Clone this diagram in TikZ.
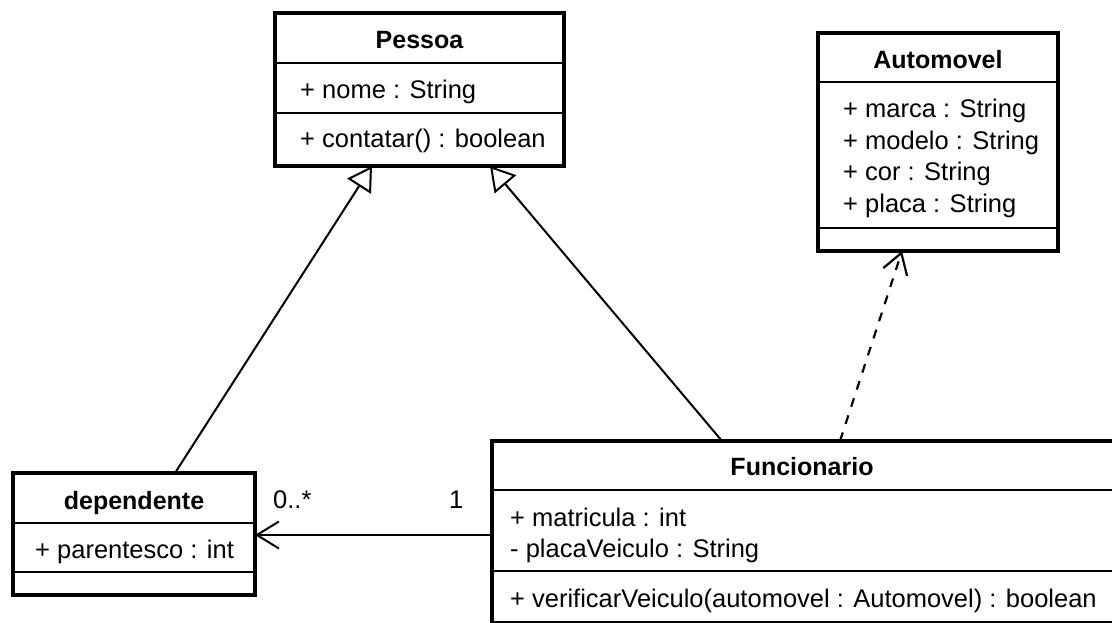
\documentclass[tikz,border=0pt]{standalone}
\usepackage{fontspec}
\setmainfont{Liberation Sans}
\usetikzlibrary{arrows.meta}
\begin{document}
\begin{tikzpicture}[x=1pt,y=-1pt,
  classbox/.style={draw, line width=3.2pt, rectangle, inner sep=0pt, outer sep=0pt},
  divider/.style={line width=1.6pt},
  member/.style={anchor=base west, inner sep=0pt, font=\fontsize{25.5}{30}\selectfont},
  classname/.style={anchor=base, inner sep=0pt, font=\fontsize{25}{30}\selectfont\bfseries},
  mult/.style={anchor=base west, inner sep=0pt, font=\fontsize{25.5}{30}\selectfont},
  generalization/.style={line width=2pt, -{Triangle[open,length=24pt,width=28pt]}},
  dependency/.style={line width=2.2pt, dash pattern=on 9pt off 9pt, -{Straight Barb[length=20pt,width=25pt]}},
  association/.style={line width=2pt, -{Straight Barb[length=22pt,width=27pt]}},
]
\useasboundingbox (0,0) rectangle (1112,623);
\fill[white] (0,0) rectangle (1112,623);
\clip (0,0) rectangle (1112,623);

% class Pessoa
\node[classbox, minimum width=289pt, minimum height=153pt] (pessoa) at (419.5,89.5) {};
\draw[divider] (pessoa.west |- 0,63) -- (pessoa.east |- 0,63);
\draw[divider] (pessoa.west |- 0,113) -- (pessoa.east |- 0,113);
\node[classname] (pessoaname) at (419.5,49) {Pessoa};
\node[member] (pessoanome) at (300,99) {+ nome : String};
\node[member] (pessoacontatar) at (300,148) {+ contatar() : boolean};

% class Automovel
\node[classbox, minimum width=240pt, minimum height=218pt] (auto) at (938,142) {};
\draw[divider] (auto.west |- 0,82) -- (auto.east |- 0,82);
\draw[divider] (auto.west |- 0,228) -- (auto.east |- 0,228);
\node[classname] (autoname) at (938,69) {Automovel};
\node[member] (automarca) at (843,118) {+ marca : String};
\node[member] (automodelo) at (843,149.5) {+ modelo : String};
\node[member] (autocor) at (843,181) {+ cor : String};
\node[member] (autoplaca) at (843,212.5) {+ placa : String};

% class dependente
\node[classbox, minimum width=242pt, minimum height=122pt] (dep) at (134,534) {};
\draw[divider] (dep.west |- 0,523) -- (dep.east |- 0,523);
\draw[divider] (dep.west |- 0,572) -- (dep.east |- 0,572);
\node[classname] (depname) at (134,509) {dependente};
\node[member] (depparentesco) at (35,558) {+ parentesco : int};

% class Funcionario
\node[classbox, minimum width=624pt, minimum height=181.5pt] (func) at (804,531.75) {};
\draw[divider] (func.west |- 0,490) -- (func.east |- 0,490);
\draw[divider] (func.west |- 0,571) -- (func.east |- 0,571);
\node[classname] (funcname) at (802,475) {Funcionario};
\node[member] (funcmatricula) at (510,526) {+ matricula : int};
\node[member] (funcplaca) at (510,557) {- placaVeiculo : String};
\node[member] (funcverificar) at (510,607) {+ verificarVeiculo(automovel : Automovel) : boolean};

% relationships
\draw[generalization] ([xshift=41pt]dep.north) -- ([xshift=-47.5pt]pessoa.south);
\draw[generalization] ([xshift=-82pt]func.north) -- ([xshift=70.5pt]pessoa.south);
\draw[dependency] ([xshift=36pt]func.north) -- ([xshift=-36pt]auto.south);
\draw[association] (func.west |- 0,535) -- (dep.east |- 0,535);

% multiplicities
\node[mult] (multmany) at (273,508) {0..*};
\node[mult] (multone) at (449,508) {1};
\end{tikzpicture}
\end{document}
